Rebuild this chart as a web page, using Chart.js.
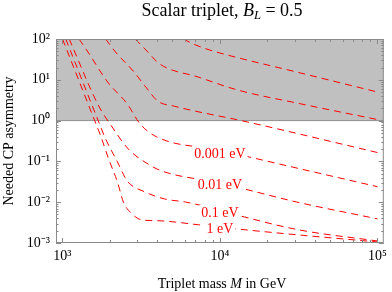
<!DOCTYPE html>
<html>
<head>
<meta charset="utf-8">
<script src="https://cdn.jsdelivr.net/npm/chart.js@4.4.1/dist/chart.umd.min.js"></script>
<style>
  html, body { margin: 0; padding: 0; background: #fff; }
  #wrap { position: relative; width: 392px; height: 292px; }
  #chart { position: absolute; left: 0; top: 0; }
  .serif { font-family: "Liberation Serif", "Times New Roman", serif; color: #000; }
  #title { position: absolute; left: 56px; width: 332px; top: 0px; text-align: center; font-size: 18px; line-height: 20px; }
  #xlabel { position: absolute; left: 56px; width: 332px; top: 276px; text-align: center; font-size: 14px; line-height: 16px; }
  sub { font-size: 0.7em; vertical-align: -0.25em; line-height: 0; }
</style>
</head>
<body>
<div id="wrap">
  <canvas id="chart" width="392" height="292"></canvas>
  <div id="title" class="serif">Scalar triplet, <i>B</i><sub><i>L</i></sub> = 0.5</div>
  <div id="xlabel" class="serif">Triplet mass <i>M</i> in GeV</div>
</div>
<script>
"use strict";

// ---------------- data ----------------
const X_MIN = 912, X_MAX = 109650;
const Y_MIN = 1e-3, Y_MAX = 1e2;
const xTicks = [1e3, 1e4, 1e5];
const yTicks = [1e-3, 1e-2, 1e-1, 1, 1e1, 1e2];
const shadeFrom = 1; // needed asymmetry above 1 is excluded (grey)

// curves, one per neutrino mass (top three unlabeled ones sit in the grey band)
const massA = [5873, 6780, 8057, 10000, 30726, 100000];
const asymA = [100, 75.4, 58.5, 45.4, 15.5, 5.02];

const massB = [2901, 3350, 4156, 7286, 12957, 30726, 100000];
const asymB = [100, 56.9, 24.4, 11.7, 5.62, 2.70, 1.06];

const massC = [1884, 2175, 2818, 3350, 4038, 5081, 14962, 100000];
const asymC = [100, 48, 16.4, 7.05, 3.0, 2.28, 0.925, 0.165];

const mass0001 = [1277, 1454, 1939, 2585, 3118, 3981, 10000, 15400, 100000];
const asym0001 = [100, 48, 8.83, 2.55, 0.826, 0.397, 0.19, 0.128, 0.024];

const mass001 = [1106, 1703, 2113, 2623, 3499, 4278, 10000, 13520, 30726, 100000];
const asym001 = [100, 2.28, 0.623, 0.201, 0.0863, 0.0582, 0.0296, 0.0223, 0.0101, 0.0039];

const mass01 = [1052, 1703, 1884, 2239, 2585, 3350, 4467, 6043, 10000, 14330, 32100, 100000];
const asym01 = [100, 0.925, 0.354, 0.0967, 0.0331, 0.0178, 0.012, 0.0101, 0.0064, 0.00434, 0.00208, 0.00112];

const mass1 = [1003, 1608, 1753, 1967, 2239, 2441, 2778, 2985, 3208, 4156, 7286, 12957, 32000, 100000];
const asym1 = [100, 0.98, 0.42, 0.115, 0.0313, 0.0101, 0.0051, 0.0041, 0.00366, 0.0035, 0.0028, 0.0022, 0.00157, 0.00106];

const labelText = ["0.001 eV", "0.01 eV", "0.1 eV", "1 eV"];
const labelMass = [1e4, 1e4, 1e4, 1e4];
const labelAsym = [0.161, 0.0279, 0.00575, 0.00233];

// ---------------- helpers ----------------
const SERIF = '"Liberation Serif", "Times New Roman", serif';
const SUP = { "-": "\u207B", "0": "\u2070", "1": "\u00B9", "2": "\u00B2", "3": "\u00B3",
  "4": "\u2074", "5": "\u2075", "6": "\u2076", "7": "\u2077", "8": "\u2078", "9": "\u2079" };
const pow10 = (v) => "10" + String(Math.round(Math.log10(v))).split("").map((c) => SUP[c]).join("");
const pts = (m, e) => m.map((x, i) => ({ x, y: e[i] }));

const curves = [
  [massA, asymA], [massB, asymB], [massC, asymC], [mass0001, asym0001],
  [mass001, asym001], [mass01, asym01], [mass1, asym1],
];

const datasets = curves.map(([m, e]) => ({
  data: pts(m, e),
  borderColor: "#ff0000",
  borderWidth: 1,
  borderDash: [7, 5],
  pointRadius: 0,
  fill: false,
  cubicInterpolationMode: "monotone",
}));
// grey excluded band, drawn underneath
datasets.push({
  data: [{ x: X_MIN, y: shadeFrom }, { x: X_MAX, y: shadeFrom }],
  borderColor: "#8f8f8f",
  borderWidth: 1,
  backgroundColor: "#c0c0c0",
  pointRadius: 0,
  fill: "end",
});

// minor log ticks 2..9 per decade
function minorTicks(lo, hi) {
  const out = [];
  for (let k = Math.floor(Math.log10(lo)); k <= Math.ceil(Math.log10(hi)); k++)
    for (let j = 2; j <= 9; j++) {
      const v = j * Math.pow(10, k);
      if (v > lo && v < hi) out.push(v);
    }
  return out;
}

// ---------------- plugins ----------------
const curveLabels = {
  id: "curveLabels",
  afterDatasetsDraw(chart) {
    const { ctx, scales: { x, y } } = chart;
    ctx.save();
    ctx.font = "14px " + SERIF;
    ctx.textAlign = "center";
    ctx.textBaseline = "middle";
    labelText.forEach((t, i) => {
      const px = x.getPixelForValue(labelMass[i]);
      const py = y.getPixelForValue(labelAsym[i]);
      const w = ctx.measureText(t).width;
      ctx.fillStyle = "#fff";
      ctx.fillRect(px - w / 2 - 2, py - 7, w + 4, 14);
      ctx.fillStyle = "#ff0000";
      ctx.fillText(t, px, py + 1);
    });
    ctx.restore();
  },
};

const frameTicks = {
  id: "frameTicks",
  afterDraw(chart) {
    const { ctx, chartArea: a, scales: { x, y } } = chart;
    ctx.save();
    ctx.strokeStyle = "#8a8a8a";
    ctx.lineWidth = 1;
    ctx.strokeRect(a.left + 0.5, a.top + 0.5, a.right - a.left - 1, a.bottom - a.top - 1);
    ctx.beginPath();
    const xt = (v, len) => {
      const px = Math.round(x.getPixelForValue(v)) + 0.5;
      ctx.moveTo(px, a.bottom); ctx.lineTo(px, a.bottom - len);
      ctx.moveTo(px, a.top); ctx.lineTo(px, a.top + len);
    };
    const yt = (v, len) => {
      const py = Math.round(y.getPixelForValue(v)) + 0.5;
      ctx.moveTo(a.left, py); ctx.lineTo(a.left + len, py);
      ctx.moveTo(a.right, py); ctx.lineTo(a.right - len, py);
    };
    xTicks.forEach((v) => xt(v, 5));
    minorTicks(X_MIN, X_MAX).forEach((v) => xt(v, 3));
    yTicks.forEach((v) => yt(v, 5));
    minorTicks(Y_MIN, Y_MAX).forEach((v) => yt(v, 2.5));
    ctx.stroke();
    ctx.restore();
  },
};

// ---------------- chart ----------------
new Chart(document.getElementById("chart"), {
  type: "line",
  data: { datasets },
  plugins: [curveLabels, frameTicks],
  options: {
    responsive: false,
    devicePixelRatio: 1,
    animation: false,
    layout: { padding: { top: 39, right: 4, left: 0, bottom: 0 } },
    plugins: { legend: { display: false }, tooltip: { enabled: false } },
    scales: {
      x: {
        type: "logarithmic", min: X_MIN, max: X_MAX,
        afterBuildTicks: (s) => { s.ticks = xTicks.map((value) => ({ value })); },
        afterFit: (s) => { s.height = 49; },
        grid: { display: false, drawTicks: false },
        border: { display: false },
        ticks: { autoSkip: false, maxRotation: 0, padding: 5, color: "#000",
                 font: { family: SERIF, size: 14 }, callback: (v) => pow10(v) },
      },
      y: {
        type: "logarithmic", min: Y_MIN, max: Y_MAX,
        afterBuildTicks: (s) => { s.ticks = yTicks.map((value) => ({ value })); },
        afterFit: (s) => { s.width = 56; },
        grid: { display: false, drawTicks: false },
        border: { display: false },
        ticks: { autoSkip: false, padding: 6, color: "#000",
                 font: { family: SERIF, size: 14 }, callback: (v) => pow10(v) },
        title: { display: true, text: "Needed CP asymmetry", color: "#000",
                 font: { family: SERIF, size: 14 }, padding: { top: 1, bottom: 0 } },
      },
    },
  },
});
</script>
</body>
</html>
